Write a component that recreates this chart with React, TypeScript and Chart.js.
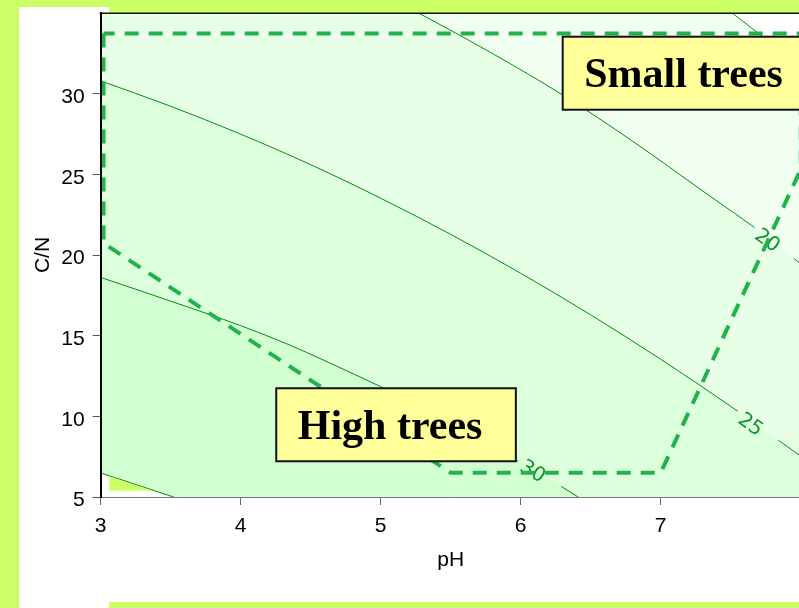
import React, { useEffect, useRef } from 'react';
import { Chart, registerables } from 'chart.js';

Chart.register(...registerables);

// ---------------- data ----------------
const xTickValues = [3, 4, 5, 6, 7];
const yTickValues = [5, 10, 15, 20, 25, 30];

const contourLevels = [15, 20, 25, 30, 35];

const level15X = [7.29, 7.51, 7.64, 7.8, 8.0, 8.1];
const level15Y = [36.38, 35.0, 34.13, 33.04, 31.62, 30.9];

const level20X = [5.0, 5.27, 5.8, 6.3, 6.8, 7.3, 7.76, 8.0, 8.1];
const level20Y = [36.23, 35.0, 32.48, 29.92, 27.05, 23.97, 21.12, 19.44, 18.75];

const level25X = [3.0, 3.5, 4.0, 4.5, 5.0, 5.5, 6.0, 6.5, 7.0, 7.5, 8.0, 8.1];
const level25Y = [30.79, 29.22, 27.49, 25.6, 23.52, 21.28, 18.87, 16.29, 13.54, 10.62, 7.53, 6.9];

const level30X = [3.0, 3.5, 4.0, 4.35, 4.59, 5.0, 5.5, 6.09, 6.28, 6.41, 6.71, 7.2, 8.1];
const level30Y = [18.61, 17.14, 15.62, 14.42, 13.49, 11.84, 9.71, 6.67, 5.71, 5.0, 3.51, 1.0, -3.5];

const level35X = [3.0, 3.52, 4.0, 5.0, 6.5, 8.1];
const level35Y = [6.49, 5.0, 3.64, 1.0, -2.5, -6.0];

const labelTexts = ['20', '25', '30'];
const labelLevels = [20, 25, 30];
const labelX = [7.759, 7.638, 6.084];
const labelY = [20.87, 9.46, 6.55];

const boundaryX = [3.02, 3.02, 5.5, 7.0, 8.0, 8.0, 3.02];
const boundaryY = [33.73, 20.73, 6.5, 6.5, 25.3, 33.73, 33.73];

const patchX = [3.06, 3.37];
const patchY = [6.28, 5.39];
const patchFloor = 5.39;

const zoneNames = ['Small trees', 'High trees'];
const zoneLeft = [6.3, 4.254];
const zoneTop = [33.53, 11.74];

// ---------------- styles ----------------
const contourXs = [level15X, level20X, level25X, level30X, level35X];
const contourYs = [level15Y, level20Y, level25Y, level30Y, level35Y];
const bandColors = ['#ffffff', '#f0fff0', '#e6ffe6', '#dcffdc', '#d2ffd2'];
const LIME = '#ccff66';
const SANS = '"Liberation Sans", Arial, sans-serif';

const pts = (xs: number[], ys: number[]) => xs.map((x, i) => ({ x, y: ys[i] }));

function labelGeom(chart: any, i: number) {
  const sx = chart.scales.x;
  const sy = chart.scales.y;
  const li = contourLevels.indexOf(labelLevels[i]);
  const xs = contourXs[li];
  const ys = contourYs[li];
  const x0 = labelX[i];
  let k = 0;
  while (k < xs.length - 2 && xs[k + 1] < x0) k++;
  const dx = sx.getPixelForValue(xs[k + 1]) - sx.getPixelForValue(xs[k]);
  const dy = sy.getPixelForValue(ys[k + 1]) - sy.getPixelForValue(ys[k]);
  return { x: sx.getPixelForValue(x0), y: sy.getPixelForValue(labelY[i]), a: Math.atan2(dy, dx) };
}

const overlayPlugin = {
  id: 'overlay',
  beforeDraw(chart: any) {
    const { ctx, chartArea: a } = chart;
    ctx.save();
    ctx.fillStyle = '#ffffff';
    ctx.fillRect(a.left, a.top, a.right - a.left, a.bottom - a.top);
    ctx.restore();
  },
  beforeDatasetDraw(chart: any, args: any) {
    const ds = chart.data.datasets[args.index];
    if (ds.kind !== 'contour') return;
    const ctx = chart.ctx;
    ctx.save();
    ctx.beginPath();
    ctx.rect(0, 0, chart.width, chart.height);
    labelLevels.forEach((lv, i) => {
      if (lv !== ds.level) return;
      const g = labelGeom(chart, i);
      const c = Math.cos(g.a);
      const s = Math.sin(g.a);
      const cx = g.x + c * 7;
      const cy = g.y + s * 7;
      const hw = 25;
      const hh = 10;
      const corners = [[-hw, -hh], [hw, -hh], [hw, hh], [-hw, hh]].map(([u, v]) => [
        cx + u * c - v * s,
        cy + u * s + v * c,
      ]);
      ctx.moveTo(corners[0][0], corners[0][1]);
      for (let j = 1; j < 4; j++) ctx.lineTo(corners[j][0], corners[j][1]);
      ctx.closePath();
    });
    ctx.clip('evenodd');
  },
  afterDatasetDraw(chart: any, args: any) {
    const ds = chart.data.datasets[args.index];
    const ctx = chart.ctx;
    if (ds.kind === 'contour') {
      ctx.restore();
      return;
    }
    if (ds.kind === 'patch') {
      labelTexts.forEach((t, i) => {
        const g = labelGeom(chart, i);
        ctx.save();
        ctx.translate(g.x, g.y);
        ctx.rotate(g.a);
        ctx.font = '20px "DejaVu Sans", sans-serif';
        ctx.fillStyle = '#14922a';
        ctx.textAlign = 'center';
        ctx.textBaseline = 'middle';
        ctx.fillText(t, 0, 0);
        ctx.restore();
      });
    }
  },
  afterDatasetsDraw(chart: any) {
    const { ctx, chartArea: a } = chart;
    ctx.save();
    ctx.strokeStyle = '#111111';
    ctx.lineWidth = 1.5;
    ctx.beginPath();
    ctx.moveTo(a.left - 1, a.top + 0.25);
    ctx.lineTo(a.right, a.top + 0.25);
    ctx.stroke();
    ctx.restore();
  },
  afterDraw(chart: any) {
    const { ctx } = chart;
    const sx = chart.scales.x;
    const sy = chart.scales.y;
    ctx.save();
    ctx.font = 'bold 42px "Liberation Serif", "Times New Roman", serif';
    zoneNames.forEach((name, i) => {
      const left = sx.getPixelForValue(zoneLeft[i]);
      const top = sy.getPixelForValue(zoneTop[i]);
      const tw = ctx.measureText(name).width;
      const w = tw + 21.5 + 33.4;
      const h = 73;
      ctx.fillStyle = '#ffff99';
      ctx.fillRect(left, top, w, h);
      ctx.strokeStyle = '#111111';
      ctx.lineWidth = 2;
      ctx.strokeRect(left, top, w, h);
      ctx.fillStyle = '#000000';
      ctx.textAlign = 'left';
      ctx.textBaseline = 'alphabetic';
      ctx.fillText(name, left + 21.5, top + 50.5);
    });
    ctx.restore();
  },
};

export default function App() {
  const ref = useRef<HTMLCanvasElement | null>(null);

  useEffect(() => {
    if (!ref.current) return;
    const contourSets = contourLevels.map((lv, i) => ({
      kind: 'contour',
      level: lv,
      data: pts(contourXs[i], contourYs[i]),
      borderColor: '#0b8a0b',
      borderWidth: 1,
      backgroundColor: 'rgba(0,0,0,0)',
      fill: false,
      pointRadius: 0,
      cubicInterpolationMode: 'monotone',
      order: 2,
    }));
    const bandSets = contourLevels.map((lv, i) => ({
      kind: 'band',
      level: lv,
      data: pts(contourXs[i], contourYs[i]),
      borderColor: 'rgba(0,0,0,0)',
      borderWidth: 0,
      backgroundColor: bandColors[i],
      fill: 'end',
      pointRadius: 0,
      cubicInterpolationMode: 'monotone',
      order: 3 + i,
    }));
    const chart = new Chart(ref.current, {
      type: 'line',
      data: {
        datasets: [
          {
            kind: 'boundary',
            data: pts(boundaryX, boundaryY),
            borderColor: '#22b14c',
            borderWidth: 4,
            borderDash: [14, 10],
            borderCapStyle: 'butt',
            borderJoinStyle: 'miter',
            fill: false,
            pointRadius: 0,
            tension: 0,
            order: 0,
          },
          {
            kind: 'patch',
            data: pts(patchX, patchY),
            borderColor: 'rgba(0,0,0,0)',
            borderWidth: 0,
            backgroundColor: LIME,
            fill: { value: patchFloor },
            pointRadius: 0,
            tension: 0,
            order: 1,
          },
          ...contourSets,
          ...bandSets,
        ] as any,
      },
      options: {
        animation: false,
        responsive: false,
        events: [],
        layout: { padding: { left: 0, right: 9.3, top: 13, bottom: 0 } },
        plugins: {
          legend: { display: false },
          tooltip: { enabled: false },
          title: { display: false },
        },
        elements: { line: { capBezierPoints: false }, point: { radius: 0 } },
        scales: {
          x: {
            type: 'linear',
            min: 3,
            max: 8,
            afterBuildTicks: (s: any) => {
              s.ticks = xTickValues.map((v) => ({ value: v }));
            },
            afterFit: (s: any) => {
              s.height = 111;
              s.paddingLeft = 0;
              s.paddingRight = 0;
              s.paddingTop = 0;
              s.paddingBottom = 0;
            },
            grid: { drawOnChartArea: false, drawTicks: true, tickLength: 8, color: '#666666', lineWidth: 1 },
            border: { display: true, color: '#777777', width: 1, z: 1 },
            ticks: {
              color: '#000000',
              font: { family: SANS, size: 21 },
              padding: 9,
              maxRotation: 0,
              autoSkip: false,
            },
            title: {
              display: true,
              text: 'pH',
              color: '#000000',
              font: { family: SANS, size: 21 },
              padding: { top: 0, bottom: 35 },
            },
          },
          y: {
            type: 'linear',
            min: 5,
            max: 35,
            afterBuildTicks: (s: any) => {
              s.ticks = yTickValues.map((v) => ({ value: v }));
            },
            afterFit: (s: any) => {
              s.width = 100.7;
              s.paddingLeft = 0;
              s.paddingRight = 0;
              s.paddingTop = 0;
              s.paddingBottom = 0;
            },
            grid: { drawOnChartArea: false, drawTicks: true, tickLength: 8, color: '#555555', lineWidth: 1 },
            border: { display: true, color: '#000000', width: 2, z: 1 },
            ticks: {
              color: '#000000',
              font: { family: SANS, size: 21 },
              padding: 8,
              labelOffset: 3.5,
              autoSkip: false,
            },
            title: {
              display: true,
              text: 'C/N',
              color: '#000000',
              font: { family: SANS, size: 21 },
              padding: { top: 31, bottom: 0 },
            },
          },
        },
      } as any,
      plugins: [overlayPlugin as any],
    });
    return () => chart.destroy();
  }, []);

  return (
    <div
      style={{
        position: 'fixed',
        left: 0,
        top: 0,
        width: 799,
        height: 608,
        overflow: 'hidden',
        background: LIME,
      }}
    >
      <div style={{ position: 'absolute', left: 19, top: 7, width: 90, height: 601, background: '#ffffff' }} />
      <div style={{ position: 'absolute', left: 109, top: 13, width: 690, height: 589, background: '#ffffff' }} />
      <canvas
        ref={ref}
        width={810}
        height={608}
        style={{ position: 'absolute', left: 0, top: 0, width: 810, height: 608 }}
      />
    </div>
  );
}
